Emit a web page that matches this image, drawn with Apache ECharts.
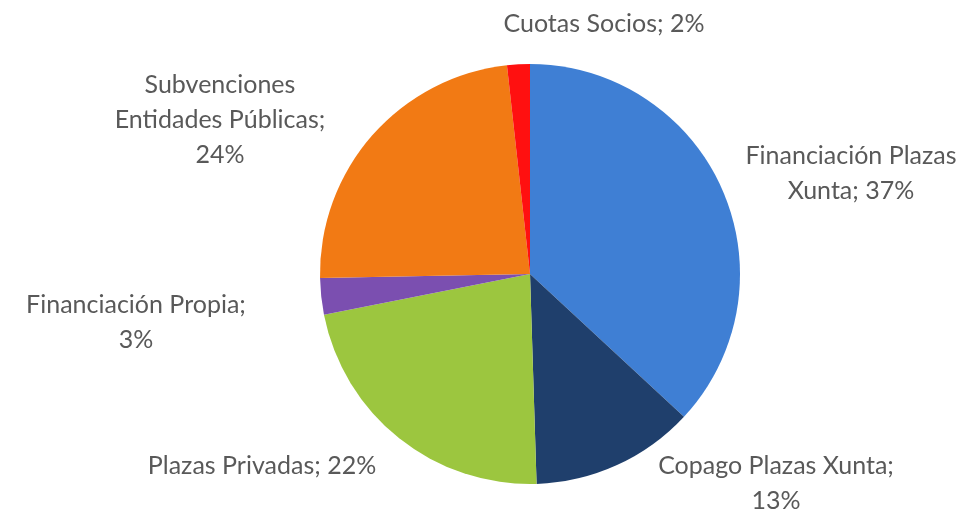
<!DOCTYPE html>
<html>
<head>
<meta charset="utf-8">
<script src="https://cdn.jsdelivr.net/npm/echarts@6/dist/echarts.min.js"></script>
<style>
html,body{margin:0;padding:0;background:#fff;}
#c{width:967px;height:513px;}
</style>
</head>
<body>
<div id="c"></div>
<script>
// Data
const categories = ['Financiación Plazas Xunta', 'Copago Plazas Xunta', 'Plazas Privadas', 'Financiación Propia', 'Subvenciones Entidades Públicas', 'Cuotas Socios'];
const values = [36.9, 12.6, 22.4, 2.8, 23.55, 1.75];
const labelTexts = ['Financiación Plazas\nXunta; 37%', 'Copago Plazas Xunta;\n13%', 'Plazas Privadas; 22%', 'Financiación Propia;\n3%', 'Subvenciones\nEntidades Públicas;\n24%', 'Cuotas Socios; 2%'];

// Style
const colors = ['#3f7fd4', '#1f3f6c', '#9cc63f', '#7b4fb0', '#f27a14', '#ff1010'];
const labelPos = [[851, 173], [776, 483], [262, 466], [136, 322], [220, 120], [604, 24]];

const chart = echarts.init(document.getElementById('c'));
chart.setOption({
  animation: false,
  series: [{
    type: 'pie',
    center: [530, 274],
    radius: 210,
    startAngle: 90,
    clockwise: true,
    data: categories.map((n, i) => ({ name: n, value: values[i], itemStyle: { color: colors[i] } })),
    label: {
      show: true,
      position: 'outside',
      formatter: p => labelTexts[p.dataIndex],
      color: '#595959',
      fontFamily: 'Lato',
      fontSize: 25,
      lineHeight: 35,
      align: 'center',
      overflow: 'none',
      width: 400
    },
    labelLine: { show: false },
    labelLayout: p => ({
      x: labelPos[p.dataIndex][0],
      y: labelPos[p.dataIndex][1],
      align: 'center',
      verticalAlign: 'middle',
      width: 400
    })
  }]
});
</script>
</body>
</html>
